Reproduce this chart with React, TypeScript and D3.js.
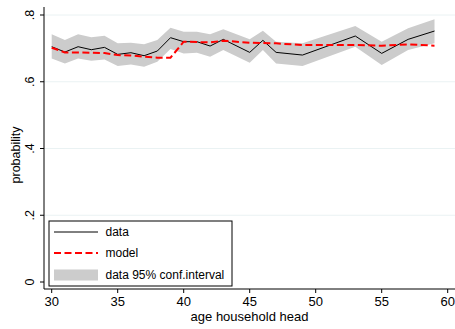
import React from "react";
import * as d3 from "d3";

const ages = [30, 31, 32, 33, 34, 35, 36, 37, 38, 39, 40, 41, 42, 43, 45, 46, 47, 49, 53, 55, 57, 59];
const dataVals = [0.705, 0.689, 0.705, 0.696, 0.703, 0.682, 0.687, 0.678, 0.692, 0.732, 0.72, 0.72, 0.707, 0.727, 0.688, 0.724, 0.688, 0.68, 0.737, 0.685, 0.727, 0.752];
const ciUpper = [0.742, 0.725, 0.742, 0.733, 0.738, 0.715, 0.717, 0.712, 0.725, 0.762, 0.75, 0.75, 0.742, 0.757, 0.727, 0.753, 0.72, 0.715, 0.767, 0.72, 0.76, 0.787];
const ciLower = [0.67, 0.655, 0.67, 0.663, 0.667, 0.647, 0.652, 0.645, 0.66, 0.698, 0.685, 0.687, 0.675, 0.695, 0.657, 0.695, 0.655, 0.647, 0.705, 0.65, 0.695, 0.715];
const modelVals = [0.702, 0.688, 0.688, 0.687, 0.686, 0.68, 0.679, 0.675, 0.672, 0.672, 0.72, 0.719, 0.718, 0.723, 0.717, 0.716, 0.715, 0.71, 0.71, 0.708, 0.712, 0.708];

const xTicks = [30, 35, 40, 45, 50, 55, 60];
const yTicks = [0, 0.2, 0.4, 0.6, 0.8];
const yTickLabels = ["0", ".2", ".4", ".6", ".8"];
const gridTicks = [0.2, 0.4, 0.6, 0.8];
const legendLabels = ["data", "model", "data 95% conf.interval"];

const W = 455;
const H = 329;
const FONT = "'Liberation Sans', Arial, Helvetica, sans-serif";

export default function App() {
  const x = d3.scaleLinear().domain([30, 60]).range([51.7, 447.7]);
  const y = d3.scaleLinear().domain([0, 0.8]).range([282, 15]);
  const axisLeft = 44;
  const axisBottom = 289;
  const plotTop = 7;

  const rows = ages.map((a, i) => ({ a, d: dataVals[i], lo: ciLower[i], hi: ciUpper[i], m: modelVals[i] }));
  const area = d3
    .area<any>()
    .x((r) => x(r.a))
    .y0((r) => y(r.lo))
    .y1((r) => y(r.hi));
  const dataLine = d3
    .line<any>()
    .x((r) => x(r.a))
    .y((r) => y(r.d));
  const modelLine = d3
    .line<any>()
    .x((r) => x(r.a))
    .y((r) => y(r.m));

  const lg = { x: 49, y: 221, w: 183, h: 65 };
  const rowY = [232, 253, 275];

  return (
    <svg
      width={W}
      height={H}
      style={{ position: "absolute", left: 0, top: 0, background: "#fff" }}
      fontFamily={FONT}
    >
      <rect x={0} y={0} width={W} height={H} fill="#fff" />
      {gridTicks.map((t) => (
        <line key={t} x1={axisLeft} x2={W} y1={y(t)} y2={y(t)} stroke="#EAF2F3" strokeWidth={1} />
      ))}
      <path d={area(rows) || ""} fill="#CCCCCC" stroke="none" />
      <path d={dataLine(rows) || ""} fill="none" stroke="#000" strokeWidth={1} />
      <path d={modelLine(rows) || ""} fill="none" stroke="#FF0000" strokeWidth={2} strokeDasharray="7,3.5" />

      {/* axes */}
      <line x1={axisLeft} x2={axisLeft} y1={plotTop} y2={axisBottom} stroke="#000" strokeWidth={1} />
      <line x1={axisLeft} x2={W} y1={axisBottom} y2={axisBottom} stroke="#000" strokeWidth={1} />
      {yTicks.map((t, i) => (
        <g key={t}>
          <line x1={axisLeft - 4} x2={axisLeft} y1={y(t)} y2={y(t)} stroke="#000" strokeWidth={1} />
          <text
            transform={`translate(33.5,${y(t)}) rotate(-90)`}
            textAnchor="middle"
            fontSize={12.5}
            fill="#000"
          >
            {yTickLabels[i]}
          </text>
        </g>
      ))}
      {xTicks.map((t) => (
        <g key={t}>
          <line x1={x(t)} x2={x(t)} y1={axisBottom} y2={axisBottom + 4} stroke="#000" strokeWidth={1} />
          <text x={x(t)} y={306} textAnchor="middle" fontSize={13} fill="#000">
            {t}
          </text>
        </g>
      ))}
      <text x={(axisLeft + W) / 2} y={321} textAnchor="middle" fontSize={13} fill="#000">
        age household head
      </text>
      <text transform={`translate(19.5,155) rotate(-90)`} textAnchor="middle" fontSize={12.5} fill="#000">
        probability
      </text>

      {/* legend */}
      <rect x={lg.x} y={lg.y} width={lg.w} height={lg.h} fill="#fff" stroke="#000" strokeWidth={1} />
      <line x1={54} x2={98} y1={rowY[0]} y2={rowY[0]} stroke="#000" strokeWidth={1} />
      <line x1={54} x2={98} y1={rowY[1]} y2={rowY[1]} stroke="#FF0000" strokeWidth={2} strokeDasharray="7,3.5" />
      <rect x={54} y={rowY[2] - 5.5} width={44} height={11} fill="#CCCCCC" />
      {legendLabels.map((l, i) => (
        <text key={l} x={105.5} y={rowY[i] + 4.3} fontSize={12} fill="#000">
          {l}
        </text>
      ))}
    </svg>
  );
}
